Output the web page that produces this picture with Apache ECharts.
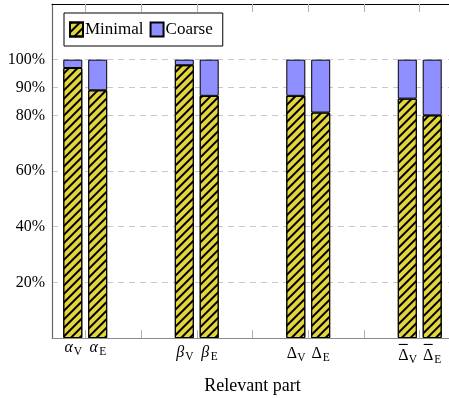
<!DOCTYPE html>
<html>
<head>
<meta charset="utf-8">
<script src="https://cdn.jsdelivr.net/npm/echarts@6/dist/echarts.min.js"></script>
<style>
  html, body { margin: 0; padding: 0; background: #fff; }
  #chart { width: 449px; height: 398px; }
</style>
</head>
<body>
<div id="chart"></div>
<script>
// Four parts, each with a vertex (V) and an edge (E) bar.
const partNames = ['alpha', 'beta', 'Delta', 'DeltaBar'];
const partSymbols = ['α', 'β', 'Δ', 'Δ'];
const partHasBar = [false, false, false, true];
const italicSymbols = [true, true, false, false];

// Share of the minimal variant (percent); coarse fills the rest to 100%.
const minimalV = [97, 98, 87, 86];
const minimalE = [89, 87, 81, 80];
const coarseV = [3, 2, 13, 14];
const coarseE = [11, 13, 19, 20];

const yTickValues = [20, 40, 60, 80, 90, 100];
const xTickValues = [1, 1.5, 2, 2.5, 3, 3.5, 4];

const FONT = '"Liberation Serif", "DejaVu Serif", serif';
const YELLOW = '#e3d53c';
const BLUE = '#8f8fff';

const hatch = {
  symbol: 'rect',
  symbolSize: 1,
  color: '#000',
  backgroundColor: null,
  dashArrayX: [1, 0],
  dashArrayY: [1.4, 3.6],
  rotation: -Math.PI / 4
};

// labels hang from their top edge, so taller glyphs sit lower
const topRowStyle = ['ta', 'tb', 'td', 'tdb'];

function partLabel(sub) {
  return {
    show: true,
    position: 'bottom',
    distance: -2,
    formatter: p => {
      const i = p.dataIndex;
      const style = italicSymbols[i] ? 'mi' : 'mu';
      const top = partHasBar[i]
        ? '{gl| }{bar| }{gr| }'
        : '{' + topRowStyle[i] + '| }';
      return top + '\n{' + style + '|' + partSymbols[i] + '}{s|' + sub + '}';
    },
    rich: {
      ta: { lineHeight: 1, fontSize: 1 },
      tb: { lineHeight: 6, fontSize: 1 },
      td: { lineHeight: 7, fontSize: 1 },
      tdb: { lineHeight: 9, fontSize: 1 },
      gl: { lineHeight: 9, fontSize: 1, width: 1 },
      bar: { lineHeight: 9, fontSize: 1, width: 9, height: 1.1, backgroundColor: '#000', verticalAlign: 'bottom' },
      gr: { lineHeight: 9, fontSize: 1, width: 9 },
      mi: { fontFamily: FONT, fontSize: 16, fontStyle: 'italic', color: '#000', lineHeight: 16, verticalAlign: 'middle', width: 10 },
      mu: { fontFamily: FONT, fontSize: 16, color: '#000', lineHeight: 16, verticalAlign: 'middle', width: 11 },
      s: { fontFamily: FONT, fontSize: 11.5, color: '#000', lineHeight: 21, verticalAlign: 'bottom', width: 8 }
    }
  };
}

const barCommon = {
  type: 'bar',
  xAxisIndex: 0,
  yAxisIndex: 0,
  barWidth: 19,
  barGap: '31%',
  animation: false
};

const chart = echarts.init(document.getElementById('chart'), null, { renderer: 'canvas' });

chart.setOption({
  animation: false,
  grid: [
    // bar layout grid: one band per part
    { left: 29.5, top: 4, right: -26.5, bottom: 60, outerBoundsMode: 'none', containLabel: false },
    // visible frame, ticks and labels
    { left: 52, top: 4, right: -4, bottom: 60, outerBoundsMode: 'none', containLabel: false }
  ],
  legend: {
    left: 64,
    top: 13,
    orient: 'horizontal',
    padding: [8, 10, 8, 5],
    itemGap: 6,
    itemWidth: 13,
    itemHeight: 14,
    icon: 'rect',
    borderColor: '#000',
    borderWidth: 1,
    backgroundColor: '#fff',
    textStyle: { fontFamily: FONT, fontSize: 17, color: '#000', padding: [0, 0, 0, -3] },
    data: ['Minimal', 'Coarse']
  },
  xAxis: [
    {
      type: 'category',
      gridIndex: 0,
      data: partNames,
      boundaryGap: true,
      axisLine: { show: false },
      axisTick: { show: false },
      axisLabel: { show: false },
      splitLine: { show: false }
    },
    {
      type: 'value',
      gridIndex: 1,
      min: 0.7,
      max: 4.3,
      position: 'bottom',
      name: 'Relevant part',
      nameLocation: 'middle',
      nameGap: 39,
      nameTextStyle: { fontFamily: FONT, fontSize: 18, color: '#000' },
      axisLine: { show: true, lineStyle: { color: '#8a8a8a', width: 1.2 } },
      axisTick: { show: true, inside: true, length: 8, customValues: xTickValues, lineStyle: { color: '#b0b0b0' } },
      axisLabel: { show: false },
      splitLine: { show: false }
    },
    {
      type: 'value',
      gridIndex: 1,
      min: 0.7,
      max: 4.3,
      position: 'top',
      axisLine: { show: true, onZero: false, lineStyle: { color: '#000', width: 1.2 } },
      axisTick: { show: true, inside: true, length: 8, customValues: xTickValues, lineStyle: { color: '#b0b0b0' } },
      axisLabel: { show: false },
      splitLine: { show: false }
    }
  ],
  yAxis: [
    {
      type: 'value',
      gridIndex: 0,
      min: 0,
      max: 120,
      axisLine: { show: false },
      axisTick: { show: false },
      axisLabel: { show: false },
      splitLine: { show: false }
    },
    {
      type: 'value',
      gridIndex: 1,
      min: 0,
      max: 120,
      axisLine: { show: true, lineStyle: { color: '#666', width: 1.2 } },
      axisTick: { show: false, customValues: yTickValues },
      axisLabel: {
        customValues: yTickValues,
        formatter: v => v + '%',
        fontFamily: FONT,
        fontSize: 16,
        color: '#000',
        margin: 7
      },
      splitLine: { show: true, lineStyle: { color: '#c8c8c8', type: [6, 5], width: 1 } }
    }
  ],
  series: [
    Object.assign({}, barCommon, {
      name: 'Minimal', stack: 'V', data: minimalV,
      itemStyle: { color: YELLOW, borderColor: '#000', borderWidth: 1, decal: hatch },
      label: partLabel('V')
    }),
    Object.assign({}, barCommon, {
      name: 'Coarse', stack: 'V', data: coarseV,
      itemStyle: { color: BLUE, borderColor: '#000', borderWidth: 1 }
    }),
    Object.assign({}, barCommon, {
      name: 'Minimal', stack: 'E', data: minimalE,
      itemStyle: { color: YELLOW, borderColor: '#000', borderWidth: 1, decal: hatch },
      label: partLabel('E')
    }),
    Object.assign({}, barCommon, {
      name: 'Coarse', stack: 'E', data: coarseE,
      itemStyle: { color: BLUE, borderColor: '#000', borderWidth: 1 }
    })
  ]
});
</script>
</body>
</html>
